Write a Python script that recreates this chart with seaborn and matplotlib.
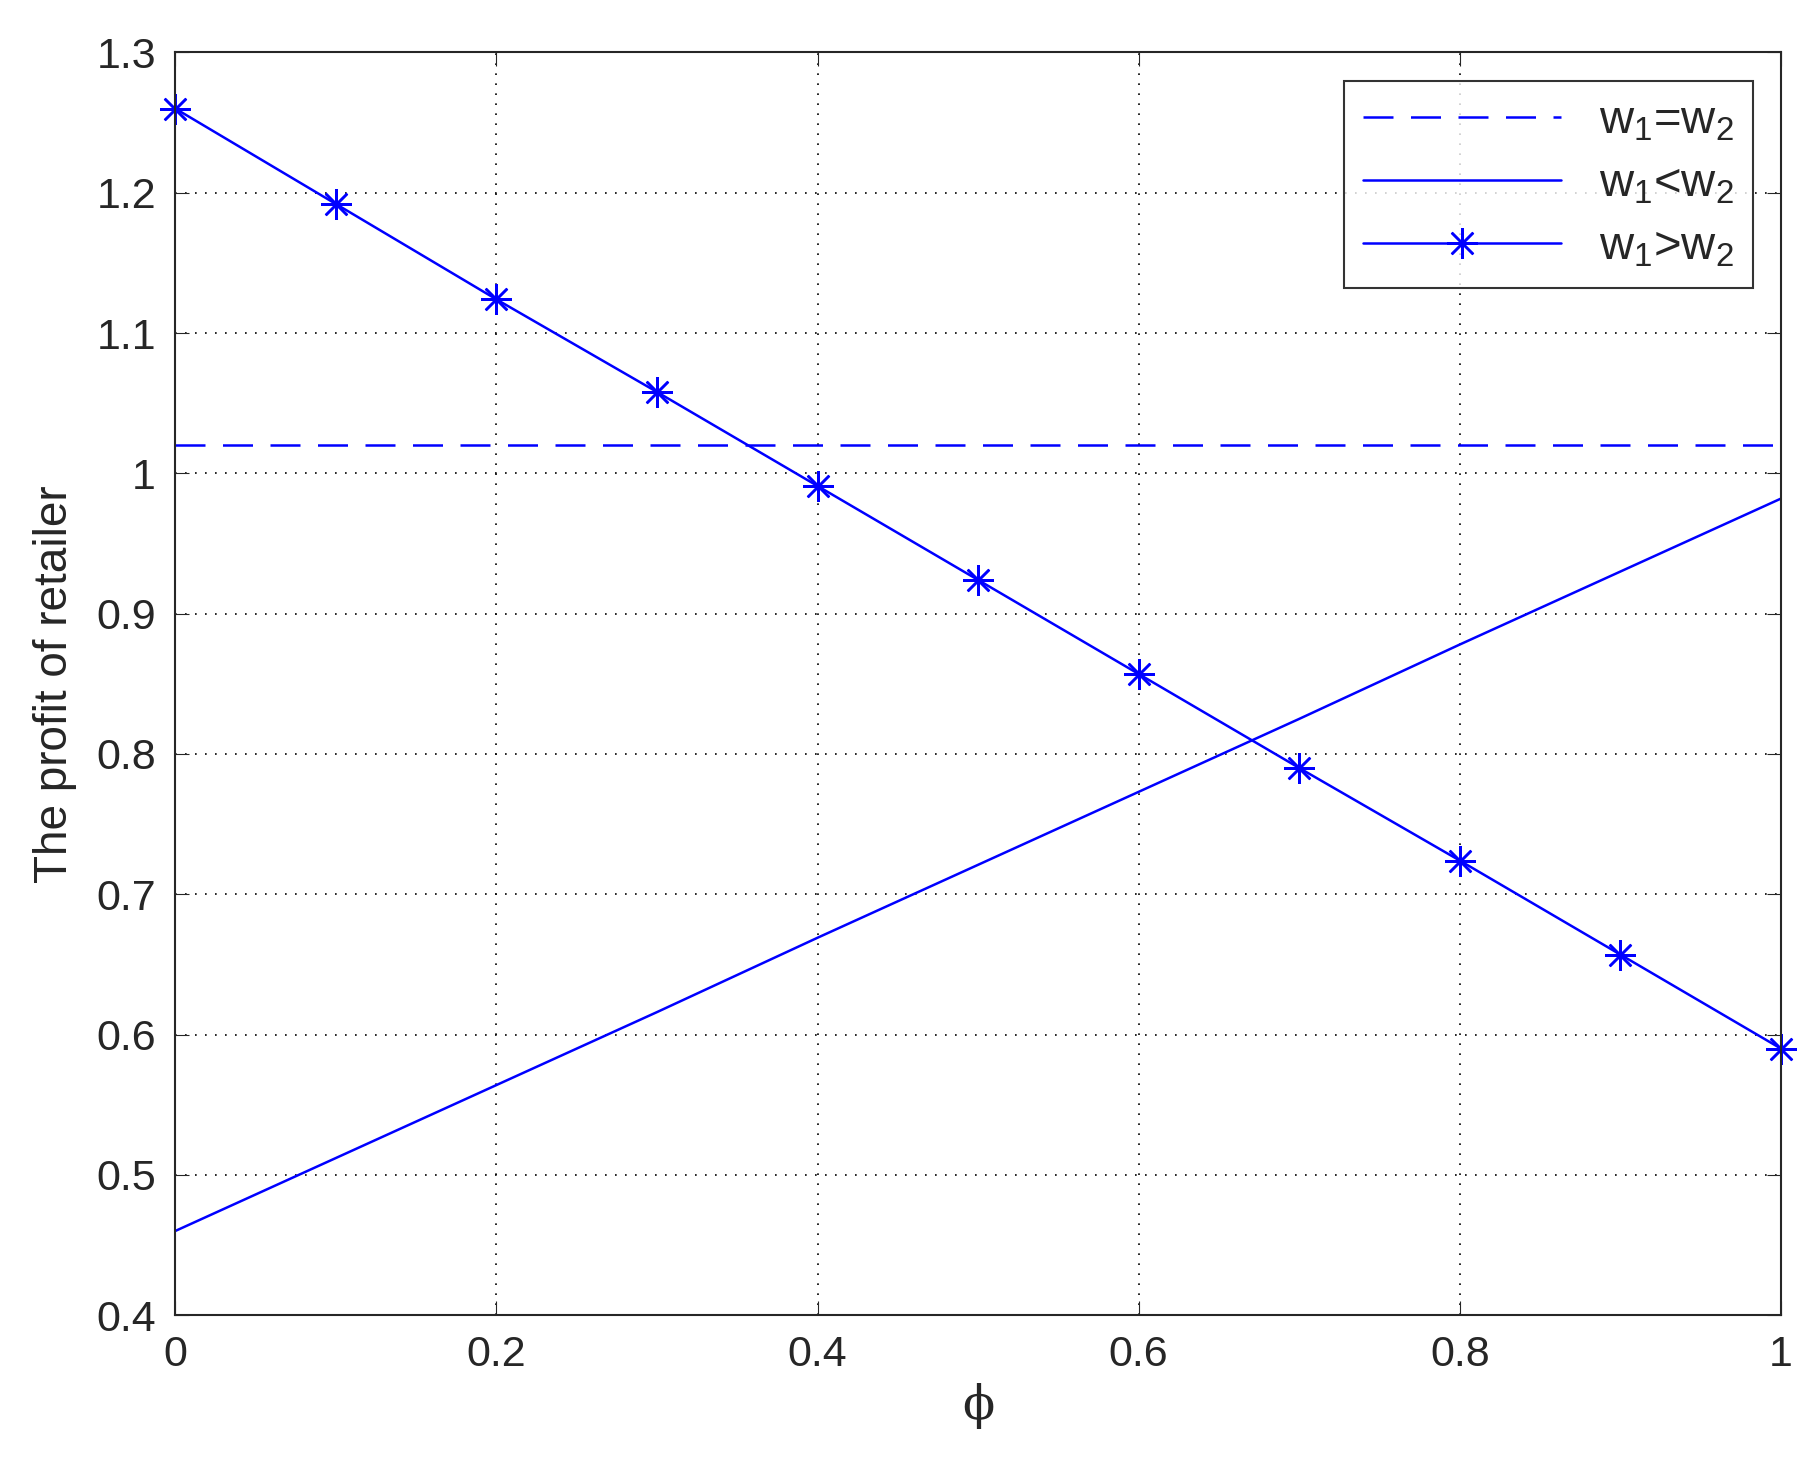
import numpy as np
import pandas as pd
import seaborn as sns
import matplotlib.pyplot as plt

phi = [0.0, 0.1, 0.2, 0.3, 0.4, 0.5, 0.6, 0.7, 0.8, 0.9, 1.0]
equal_profit = [1.02] * 11
less_profit = [0.460, 0.512, 0.564, 0.616, 0.669, 0.721, 0.773, 0.825, 0.878, 0.930, 0.982]
greater_profit = [1.260, 1.192, 1.124, 1.058, 0.991, 0.924, 0.857, 0.790, 0.724, 0.657, 0.590]

sns.set_style("ticks")
plt.rcParams['font.family'] = ['Liberation Sans', 'DejaVu Sans']
plt.rcParams['mathtext.fontset'] = 'custom'
plt.rcParams['mathtext.rm'] = 'Liberation Sans'
plt.rcParams['mathtext.it'] = 'Liberation Sans'

df = pd.DataFrame({'phi': phi, 'eq': equal_profit, 'lt': less_profit, 'gt': greater_profit})

fig = plt.figure(figsize=(18.08, 14.58), dpi=100)
ax = fig.add_axes([0.097, 0.098, 0.888, 0.866])
blue = '#0000ff'
sns.lineplot(data=df, x='phi', y='eq', ax=ax, color=blue, lw=1.8, label=r'w$_1$=w$_2$')
ax.lines[-1].set_dashes((12, 7))
sns.lineplot(data=df, x='phi', y='lt', ax=ax, color=blue, lw=1.8, label=r'w$_1$<w$_2$')
sns.lineplot(data=df, x='phi', y='gt', ax=ax, color=blue, lw=1.8, marker=(8, 2, 0), markersize=22,
             markeredgewidth=1.8, markeredgecolor=blue, label=r'w$_1$>w$_2$', clip_on=False)

ax.set_xlim(0, 1)
ax.set_ylim(0.4, 1.3)
ax.set_xticks(np.arange(0, 1.01, 0.2))
ax.set_xticklabels(['0', '0.2', '0.4', '0.6', '0.8', '1'])
ax.set_yticks(np.arange(0.4, 1.31, 0.1))
ax.set_yticklabels(['0.4', '0.5', '0.6', '0.7', '0.8', '0.9', '1', '1.1', '1.2', '1.3'])
ax.tick_params(labelsize=31, direction='in', length=10, top=True, right=True, pad=14)
ax.grid(True, linestyle=(0, (1, 5)), color='black', lw=1.2)
for s in ax.spines.values():
    s.set_linewidth(1.5)
ax.set_xlabel('ϕ', fontsize=34, family=['DejaVu Serif'], labelpad=6)
ax.set_ylabel('The profit of retailer', fontsize=33, labelpad=14)
leg = ax.legend(loc='upper right', fontsize=34, frameon=True, fancybox=False, handlelength=4.2,
                edgecolor='black', borderaxespad=0.6, labelspacing=0.4)
leg.get_frame().set_linewidth(1.5)
fig.savefig('out.png', dpi=100)
